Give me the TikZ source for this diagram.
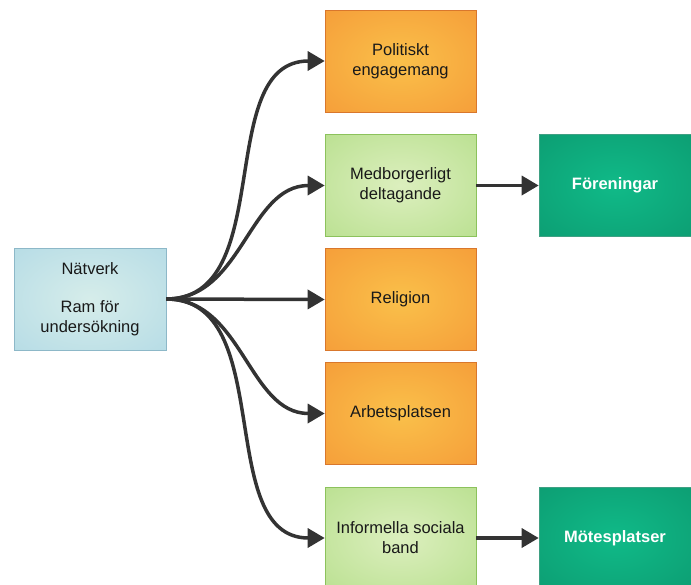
\documentclass[tikz,border=0pt]{standalone}
\usepackage{fontspec}
\setmainfont{Liberation Sans}
\usetikzlibrary{arrows.meta}
\definecolor{bI}{HTML}{D6EDEA}
\definecolor{bO}{HTML}{A0D0E3}
\definecolor{bB}{HTML}{8DB8C8}
\definecolor{oI}{HTML}{FAC04A}
\definecolor{oO}{HTML}{F2862E}
\definecolor{oB}{HTML}{D9772C}
\definecolor{gI}{HTML}{DCEFBE}
\definecolor{gO}{HTML}{A3D672}
\definecolor{gB}{HTML}{8CC25C}
\definecolor{tI}{HTML}{10BA88}
\definecolor{tO}{HTML}{0A8A64}
\definecolor{tB}{HTML}{3FA083}
\definecolor{arr}{HTML}{333333}
\pgfdeclareradialshading{blueglow}{\pgfpoint{0bp}{0bp}}{color(0bp)=(bI); color(62bp)=(bO); color(80bp)=(bO)}
\pgfdeclareradialshading{orangeglow}{\pgfpoint{0bp}{0bp}}{color(0bp)=(oI); color(62bp)=(oO); color(80bp)=(oO)}
\pgfdeclareradialshading{greenglow}{\pgfpoint{0bp}{0bp}}{color(0bp)=(gI); color(62bp)=(gO); color(80bp)=(gO)}
\pgfdeclareradialshading{tealglow}{\pgfpoint{0bp}{0bp}}{color(0bp)=(tI); color(62bp)=(tO); color(80bp)=(tO)}
\begin{document}
\begin{tikzpicture}[x=1pt,y=-1pt,
  box/.style={rectangle, minimum width=151pt, minimum height=102pt, inner sep=0pt,
    align=center, line width=0.6pt, font=\fontsize{16.5}{20}\selectfont, text=black!90},
  bluebox/.style={box, draw=bB, shading=blueglow},
  orangebox/.style={box, draw=oB, shading=orangeglow},
  greenbox/.style={box, draw=gB, shading=greenglow},
  tealbox/.style={box, draw=tB, shading=tealglow, text=white, font=\fontsize{16.5}{20}\selectfont\bfseries},
  conn/.style={draw=arr, line width=3.5pt, -{Triangle[length=17pt,width=19pt]}},
  curved/.style={conn, out=0, in=180}
]
\useasboundingbox (0,0) rectangle (691,584);
\node[bluebox, minimum width=152pt] (net) at (90,299) {Nätverk\\[18pt]Ram för\\undersökning};
\node[orangebox] (pol) at (400.5,61) {Politiskt\\engagemang};
\node[greenbox] (med) at (400.5,185.5) {Medborgerligt\\deltagande};
\node[orangebox] (rel) at (400.5,299.5) {Religion};
\node[orangebox] (arb) at (400.5,413.5) {Arbetsplatsen};
\node[greenbox] (inf) at (400.5,538) {Informella sociala\\band};
\node[tealbox, minimum width=152pt] (for) at (615,185.5) {Föreningar};
\node[tealbox, minimum width=152pt] (mot) at (615,538) {Mötesplatser};
\draw[curved] (net.east) to (pol.west);
\draw[curved] (net.east) to (med.west);
\draw[conn] (net.east) -- (rel.west);
\draw[curved] (net.east) to (arb.west);
\draw[curved] (net.east) to (inf.west);
\draw[conn] (med.east) -- (for.west);
\draw[conn] (inf.east) -- (mot.west);
\end{tikzpicture}
\end{document}
